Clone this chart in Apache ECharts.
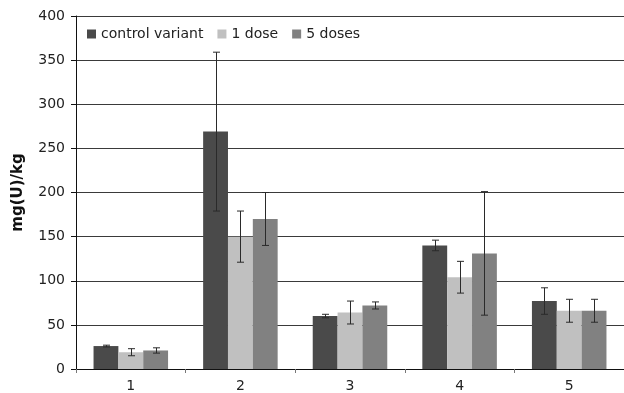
<!DOCTYPE html>
<html>
<head>
<meta charset="utf-8">
<script src="https://cdn.jsdelivr.net/npm/echarts@6/dist/echarts.min.js"></script>
<style>
  html, body { margin: 0; padding: 0; background: #fff; }
  #chart { width: 624px; height: 393px; }
</style>
</head>
<body>
<div id="chart"></div>
<script>
// categories
var categories = ['1', '2', '3', '4', '5'];
// series names
var seriesNames = ['control variant', '1 dose', '5 doses'];
// bar values
var controlValues = [26, 269, 60, 140, 77];
var oneDoseValues = [19, 150, 64, 104, 66];
var fiveDoseValues = [21, 170, 72, 131, 66];
// error bar half widths
var controlErr = [1, 90, 2, 6, 15];
var oneDoseErr = [4, 29, 13, 18, 13];
var fiveDoseErr = [3, 30, 4, 70, 13];
// colours
var colors = ['#4a4a4a', '#c0c0c0', '#818181'];

var allValues = [controlValues, oneDoseValues, fiveDoseValues];
var allErr = [controlErr, oneDoseErr, fiveDoseErr];

var catGap = 0.32;

// error bar series, offset the same way as the bars
function errorSeries(idx) {
    var data = [];
    for (var i = 0; i < categories.length; i++) {
        var v = allValues[idx][i], e = allErr[idx][i];
        data.push([i, v - e, v + e]);
    }
    return {
        type: 'custom',
        name: seriesNames[idx] + ' err',
        z: 10,
        silent: true,
        renderItem: function (params, api) {
            var band = api.size([1, 0])[0];
            var barW = band * (1 - catGap) / 3;
            var off = (idx - 1) * barW;
            var low = api.coord([api.value(0), api.value(1)]);
            var high = api.coord([api.value(0), api.value(2)]);
            var x = Math.round(low[0] + off) + 0.5;
            var cap = 3.5;
            var st = { stroke: '#2a2a2a', lineWidth: 1 };
            return {
                type: 'group',
                children: [
                    { type: 'line', shape: { x1: x, y1: high[1], x2: x, y2: low[1] }, style: st },
                    { type: 'line', shape: { x1: x - cap, y1: high[1], x2: x + cap, y2: high[1] }, style: st },
                    { type: 'line', shape: { x1: x - cap, y1: low[1], x2: x + cap, y2: low[1] }, style: st }
                ]
            };
        },
        encode: { x: 0, y: [1, 2] },
        data: data
    };
}

var series = [];
for (var s = 0; s < 3; s++) {
    series.push({
        name: seriesNames[s],
        type: 'bar',
        data: allValues[s],
        barGap: '0%',
        barCategoryGap: (catGap * 100) + '%',
        itemStyle: { color: colors[s] }
    });
}
for (var s2 = 0; s2 < 3; s2++) {
    series.push(errorSeries(s2));
}

var myChart = echarts.init(document.getElementById('chart'));
var option = {
    animation: false,
    textStyle: { fontFamily: 'DejaVu Sans, sans-serif' },
    legend: {
        data: seriesNames,
        left: 82,
        top: 22,
        itemWidth: 9,
        itemHeight: 9,
        itemGap: 14,
        icon: 'rect',
        textStyle: { fontSize: 14, color: '#222' }
    },
    grid: { left: 76, right: 0, top: 16, bottom: 23 },
    xAxis: {
        type: 'category',
        data: categories,
        axisLine: { lineStyle: { color: '#111', width: 1 } },
        axisTick: { show: true, length: 4, lineStyle: { color: '#777' } },
        axisLabel: { fontSize: 14, color: '#222', margin: 10 }
    },
    yAxis: {
        type: 'value',
        min: 0,
        max: 400,
        interval: 50,
        name: 'mg(U)/kg',
        nameLocation: 'middle',
        nameGap: 50,
        nameTextStyle: { fontSize: 15, fontWeight: 'bold', color: '#111' },
        axisLine: { show: true, lineStyle: { color: '#111', width: 1 } },
        axisTick: { show: true, length: 5, lineStyle: { color: '#111' } },
        axisLabel: { fontSize: 14, color: '#222', margin: 11 },
        splitLine: { lineStyle: { color: '#3a3a3a', width: 1 } }
    },
    series: series
};
myChart.setOption(option);
</script>
</body>
</html>
